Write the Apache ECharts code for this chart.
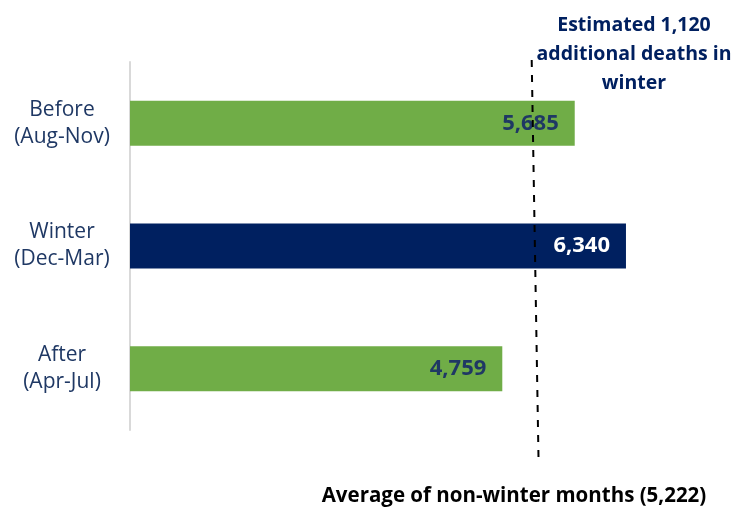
<!DOCTYPE html>
<html><head><meta charset="utf-8">
<script src="https://cdn.jsdelivr.net/npm/echarts@6/dist/echarts.min.js"></script>
<style>html,body{margin:0;padding:0;background:#fff}#c{width:731px;height:508px}</style>
</head><body><div id="c"></div>
<script>
const categories = ['Before\n(Aug-Nov)', 'Winter\n(Dec-Mar)', 'After\n(Apr-Jul)'];
const deaths = [5685, 6340, 4759];
const barColors = ['#70ad47', '#002060', '#70ad47'];
const labelColors = ['#1f3864', '#ffffff', '#1f3864'];
const averageNonWinter = 5222;
const averageLineTop = 5135;
const annotation = 'Estimated 1,120\nadditional deaths in\nwinter';
const axisNote = 'Average of non-winter months (5,222)';

const FONT = 'Open Sans';
const chart = echarts.init(document.getElementById('c'));
chart.setOption({
  animation: false,
  backgroundColor: '#fff',
  title: [
    { text: annotation, left: 629, top: 6, textAlign: 'center',
      textStyle: { fontFamily: FONT, fontSize: 19.5, fontWeight: 'bold', color: '#002060', lineHeight: 29, align: 'center' } },
    { text: axisNote, left: 509, top: 478, textAlign: 'center',
      textStyle: { fontFamily: FONT, fontSize: 20.5, fontWeight: 'bold', color: '#000', lineHeight: 27 } }
  ],
  grid: { left: 130, right: 53.4, top: 62, bottom: 78, containLabel: false },
  xAxis: { type: 'value', min: 0, max: 7000, show: false, splitLine: { show: false } },
  yAxis: {
    type: 'category', data: categories, inverse: true,
    axisLine: { show: true, lineStyle: { color: '#d9d9d9', width: 2 } },
    axisTick: { show: false },
    axisLabel: { margin: 68, align: 'center', fontFamily: FONT, fontSize: 21, color: '#1f3864', lineHeight: 27 }
  },
  series: [{
    type: 'bar', clip: false,
    barWidth: 45,
    data: deaths.map((v, i) => ({
      value: v,
      itemStyle: { color: barColors[i] },
      label: { color: labelColors[i] }
    })),
    label: {
      show: true, position: 'insideRight', distance: 16,
      fontFamily: FONT, fontSize: 22, fontWeight: 'bold',
      formatter: p => p.value.toLocaleString('en-US')
    },
    markLine: {
      silent: true, symbol: 'none', animation: false,
      lineStyle: { color: '#000', type: [7, 8], width: 2 },
      label: { show: false },
      data: [[ { xAxis: averageLineTop, y: 60 }, { xAxis: averageNonWinter, y: 458 } ]]
    }
  }]
});
</script></body></html>
